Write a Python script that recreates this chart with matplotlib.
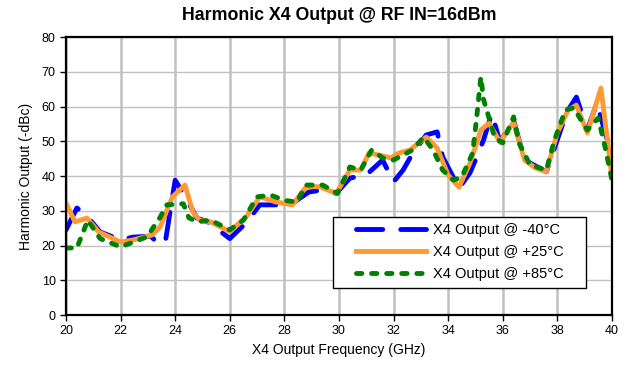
import matplotlib
matplotlib.use("Agg")
import matplotlib.pyplot as plt
from matplotlib.patches import Rectangle

plt.rcParams['font.family'] = ['Liberation Sans', 'DejaVu Sans']

# X4 Output @ -40°C
f_cold = [20.0, 20.4, 20.8, 21.25, 22.0, 22.45, 23.1, 23.37, 23.63, 24.0, 24.3, 24.8, 25.2, 26.0,
          26.6, 27.1, 27.7, 28.3, 28.9, 29.4, 29.9, 30.4, 31.0, 31.6, 32.0, 32.35, 32.7, 33.2,
          33.6, 33.8, 34.4, 34.8, 35.05, 35.3, 35.6, 35.9, 36.4, 36.8, 37.6, 38.0, 38.35, 38.7,
          39.1, 39.45, 39.8, 40.0]
p_cold = [24.5, 30.8, 28.2, 23.9, 21.6, 22.4, 22.7, 20.7, 20.6, 38.8, 35.0, 27.9, 26.8, 22.0,
          26.5, 31.7, 31.7, 32.2, 35.4, 36.0, 35.0, 39.4, 40.3, 44.6, 38.3, 41.7, 46.5, 51.8,
          52.7, 45.5, 36.5, 40.9, 45.5, 50.4, 58.0, 49.8, 56.0, 44.6, 41.2, 50.4, 58.4, 62.7,
          53.2, 61.0, 51.2, 47.0]

# X4 Output @ +25°C
f_room = [20.0, 20.33, 20.77, 21.2, 22.0, 22.45, 23.15, 23.45, 23.9, 24.36, 24.65, 24.9, 25.3,
          26.0, 26.6, 27.1, 27.7, 28.3, 28.8, 29.3, 29.9, 30.4, 30.8, 31.1, 31.5, 31.9, 32.2,
          32.6, 33.2, 33.6, 34.0, 34.4, 34.8, 35.2, 35.5, 35.9, 36.4, 36.8, 37.2, 37.6, 38.0,
          38.4, 38.7, 39.1, 39.6, 40.0]
p_room = [32.2, 26.8, 27.9, 23.9, 21.0, 21.6, 23.0, 25.3, 34.0, 37.4, 29.6, 27.3, 26.8,
          24.0, 28.2, 34.0, 32.5, 31.7, 36.9, 36.9, 35.0, 41.7, 41.7, 46.6, 46.0, 45.2, 46.6,
          47.5, 51.2, 48.0, 40.3, 36.8, 43.7, 53.2, 55.2, 49.8, 55.5, 44.6, 42.3, 41.2, 52.4,
          59.0, 60.4, 52.4, 65.3, 40.0]

# X4 Output @ +85°C
f_hot = [20.0, 20.4, 20.8, 21.25, 22.0, 22.97, 23.44, 23.7, 24.3, 24.5, 24.8, 25.3, 26.0, 26.5,
         27.0, 27.5, 28.0, 28.45, 28.8, 29.4, 29.95, 30.4, 30.8, 31.2, 31.6, 32.0, 32.7, 33.1,
         33.45, 33.8, 34.2, 34.5, 34.9, 35.05, 35.2, 35.3, 35.5, 35.7, 36.0, 36.4, 36.6, 37.0,
         37.6, 37.9, 38.3, 38.6, 39.1, 39.5, 39.75, 40.0]
p_hot = [19.3, 19.3, 27.3, 22.0, 19.6, 22.5, 28.0, 31.7, 32.0, 28.0, 26.8, 27.3, 24.5, 27.3,
         34.0, 34.5, 33.0, 32.5, 37.4, 37.4, 35.0, 42.6, 41.7, 47.5, 45.2, 44.6, 47.5, 51.2,
         47.5, 41.7, 38.8, 39.7, 46.6, 57.0, 68.5, 62.0, 56.7, 51.2, 49.5, 57.0, 49.5, 43.2,
         41.7, 50.4, 59.0, 59.6, 53.2, 56.7, 48.4, 39.0]

xticks = list(range(20, 41, 2))
yticks = list(range(0, 81, 10))

fig = plt.figure(figsize=(6.26, 3.66), dpi=100)
ax = fig.add_axes([0.1054, 0.1393, 0.872, 0.7596])

ax.plot(f_cold, p_cold, color='#0000FF', lw=3.5, linestyle=(0, (5.4, 3.7)),
        dash_capstyle='round', solid_joinstyle='round', label='X4 Output @ -40°C')
ax.plot(f_room, p_room, color='#FF9933', lw=3.5, solid_joinstyle='round',
        label='X4 Output @ +25°C')
ax.plot(f_hot, p_hot, color='#008000', lw=3.5, linestyle=(0, (1.1, 2.0)),
        dash_capstyle='round', label='X4 Output @ +85°C')

ax.set_xlim(20, 40)
ax.set_ylim(0, 80)
ax.set_xticks(xticks)
ax.set_yticks(yticks)
ax.tick_params(direction='out', length=4, width=1, labelsize=9, colors='black')

ax.grid(axis='x', color='#C0C0C0', lw=1.8)
ax.grid(axis='y', color='#C0C0C0', lw=1.0)
ax.set_axisbelow(True)
for s in ax.spines.values():
    s.set_linewidth(1.6)
    s.set_color('black')

ax.set_title('Harmonic X4 Output @ RF IN=16dBm', fontsize=12.8, fontweight='bold', pad=12)
ax.set_xlabel('X4 Output Frequency (GHz)', fontsize=10, labelpad=4)
ax.set_ylabel('Harmonic Output (-dBc)', fontsize=10, labelpad=6)

# legend box drawn separately so the entries can sit inset like the original
ax.add_patch(Rectangle((0.489, 0.097), 0.463, 0.256, transform=ax.transAxes,
                       facecolor='white', edgecolor='black', lw=1.0, zorder=4))
leg = ax.legend(loc='center left', bbox_to_anchor=(0.531, 0.225), borderaxespad=0,
                borderpad=0, fontsize=10.5, frameon=False, handlelength=4.8,
                handletextpad=0.5, labelspacing=0.55)
leg.set_zorder(5)

fig.savefig('out.png', dpi=100)
